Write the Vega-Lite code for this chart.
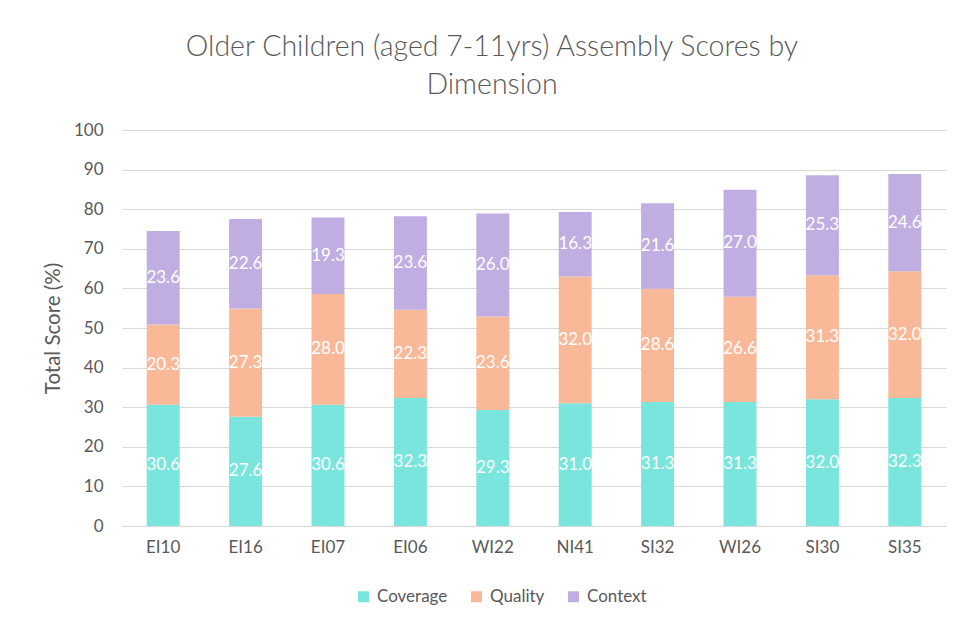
{
  "$schema": "https://vega.github.io/schema/vega-lite/v6.json",
  "width": 824,
  "height": 396,
  "autosize": "none",
  "padding": {"left": 122, "top": 130, "right": 14, "bottom": 97},
  "background": "white",
  "config": {
    "font": "Lato",
    "view": {"stroke": null},
    "axis": {
      "labelFontSize": 17,
      "labelColor": "#595959",
      "titleFontWeight": "normal",
      "titleColor": "#595959",
      "ticks": false
    }
  },
  "title": {
    "text": ["Older Children (aged 7-11yrs) Assembly Scores by", "Dimension"],
    "fontSize": 28.5,
    "fontWeight": 300,
    "color": "#595959",
    "anchor": "middle",
    "frame": "group",
    "dx": -42,
    "offset": 22,
    "lineHeight": 38
  },
  "data": {
    "values": [
      {"school": "EI10", "dim": "Coverage", "rank": 1, "score": 30.6},
      {"school": "EI10", "dim": "Quality", "rank": 2, "score": 20.3},
      {"school": "EI10", "dim": "Context", "rank": 3, "score": 23.6},
      {"school": "EI16", "dim": "Coverage", "rank": 1, "score": 27.6},
      {"school": "EI16", "dim": "Quality", "rank": 2, "score": 27.3},
      {"school": "EI16", "dim": "Context", "rank": 3, "score": 22.6},
      {"school": "EI07", "dim": "Coverage", "rank": 1, "score": 30.6},
      {"school": "EI07", "dim": "Quality", "rank": 2, "score": 28.0},
      {"school": "EI07", "dim": "Context", "rank": 3, "score": 19.3},
      {"school": "EI06", "dim": "Coverage", "rank": 1, "score": 32.3},
      {"school": "EI06", "dim": "Quality", "rank": 2, "score": 22.3},
      {"school": "EI06", "dim": "Context", "rank": 3, "score": 23.6},
      {"school": "WI22", "dim": "Coverage", "rank": 1, "score": 29.3},
      {"school": "WI22", "dim": "Quality", "rank": 2, "score": 23.6},
      {"school": "WI22", "dim": "Context", "rank": 3, "score": 26.0},
      {"school": "NI41", "dim": "Coverage", "rank": 1, "score": 31.0},
      {"school": "NI41", "dim": "Quality", "rank": 2, "score": 32.0},
      {"school": "NI41", "dim": "Context", "rank": 3, "score": 16.3},
      {"school": "SI32", "dim": "Coverage", "rank": 1, "score": 31.3},
      {"school": "SI32", "dim": "Quality", "rank": 2, "score": 28.6},
      {"school": "SI32", "dim": "Context", "rank": 3, "score": 21.6},
      {"school": "WI26", "dim": "Coverage", "rank": 1, "score": 31.3},
      {"school": "WI26", "dim": "Quality", "rank": 2, "score": 26.6},
      {"school": "WI26", "dim": "Context", "rank": 3, "score": 27.0},
      {"school": "SI30", "dim": "Coverage", "rank": 1, "score": 32.0},
      {"school": "SI30", "dim": "Quality", "rank": 2, "score": 31.3},
      {"school": "SI30", "dim": "Context", "rank": 3, "score": 25.3},
      {"school": "SI35", "dim": "Coverage", "rank": 1, "score": 32.3},
      {"school": "SI35", "dim": "Quality", "rank": 2, "score": 32.0},
      {"school": "SI35", "dim": "Context", "rank": 3, "score": 24.6}
    ]
  },
  "encoding": {
    "x": {
      "field": "school",
      "type": "nominal",
      "sort": null,
      "scale": {"paddingInner": 0.6, "paddingOuter": 0.3},
      "axis": {
        "title": null,
        "labelAngle": 0,
        "domainColor": "#d9d9d9",
        "labelPadding": 13
      }
    },
    "y": {
      "field": "score",
      "type": "quantitative",
      "stack": "zero",
      "scale": {"domain": [0, 100]},
      "axis": {
        "title": "Total Score (%)",
        "titleFontSize": 20.5,
        "titlePadding": 10,
        "titleLimit": 400,
        "labelPadding": 19,
        "values": [0, 10, 20, 30, 40, 50, 60, 70, 80, 90, 100],
        "grid": true,
        "gridColor": "#d9d9d9",
        "domain": false
      }
    }
  },
  "layer": [
    {
      "mark": {"type": "bar"},
      "encoding": {
        "color": {
          "field": "dim",
          "type": "nominal",
          "scale": {
            "domain": ["Coverage", "Quality", "Context"],
            "range": ["#79E5DC", "#F9B998", "#C0AEE2"]
          },
          "legend": {
            "title": null,
            "orient": "none",
            "direction": "horizontal",
            "legendX": 233,
            "legendY": 458,
            "symbolType": "square",
            "symbolSize": 121,
            "symbolStrokeWidth": 0,
            "labelFontSize": 17,
            "labelColor": "#595959",
            "labelOffset": 5,
            "columnPadding": 20
          }
        },
        "order": {"field": "rank"}
      }
    },
    {
      "mark": {"type": "text", "color": "white", "fontSize": 17, "baseline": "middle"},
      "encoding": {
        "y": {
          "field": "score",
          "type": "quantitative",
          "stack": "zero",
          "bandPosition": 0.5
        },
        "detail": {"field": "dim"},
        "order": {"field": "rank"},
        "text": {"field": "score", "type": "quantitative", "format": ".1f"}
      }
    }
  ]
}
